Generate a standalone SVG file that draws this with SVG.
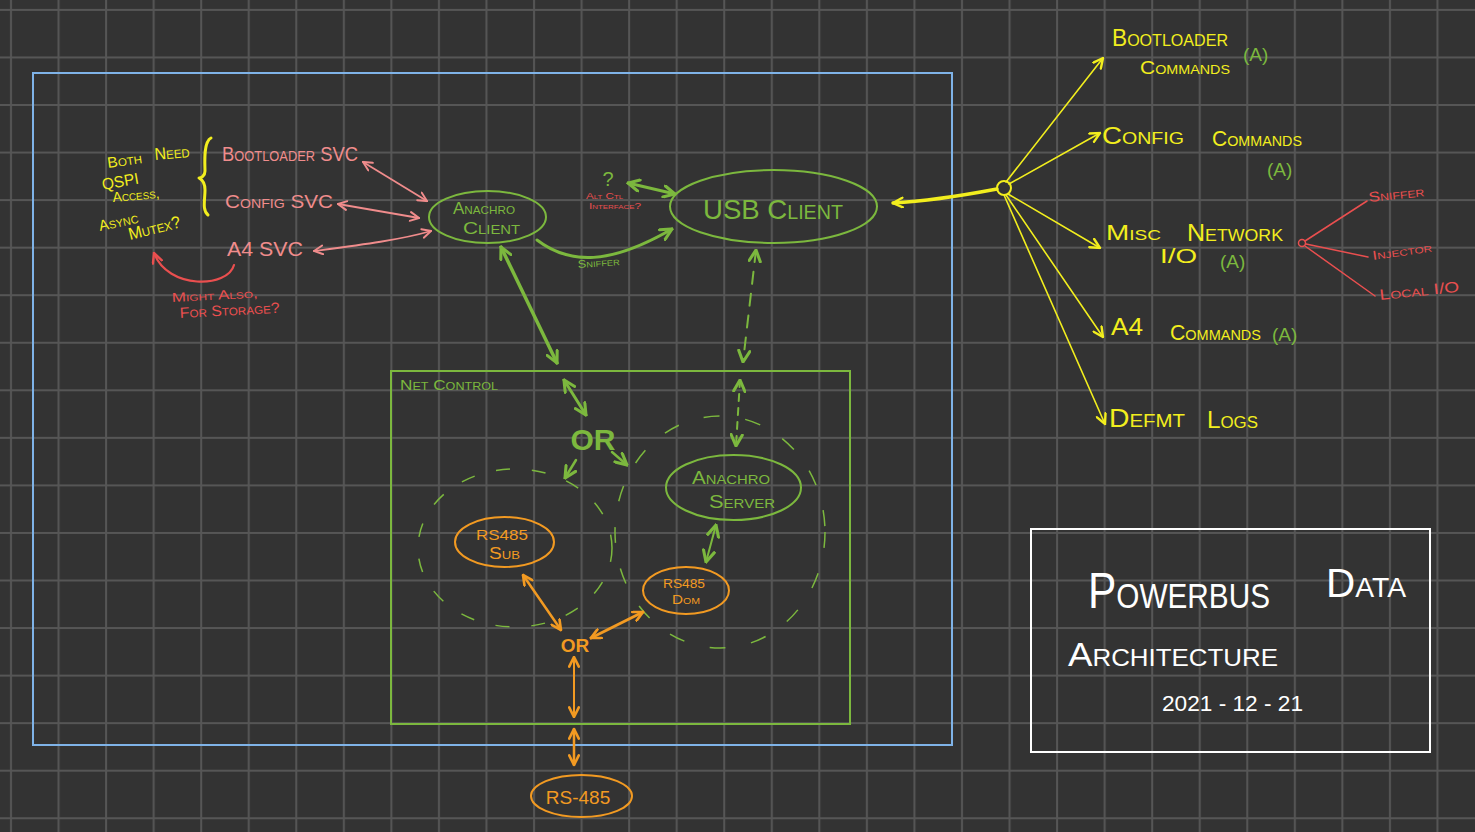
<svg xmlns="http://www.w3.org/2000/svg" width="1475" height="832" viewBox="0 0 1475 832">
<style>
text{font-family:"Liberation Sans","DejaVu Sans",sans-serif;font-variant:small-caps;}
.y{fill:#f2ee1e}.g{fill:#7cb83e}.o{fill:#f29a22}.p{fill:#f08c8c}.r{fill:#ea4f4f}.w{fill:#ffffff}
.ln{fill:none;stroke-linecap:round;stroke-linejoin:round}
.sy{stroke:#f2ee1e}.sg{stroke:#7cb83e}.so{stroke:#f29a22}.sp{stroke:#f08c8c}.sr{stroke:#ea4f4f}
</style>
<defs>
<pattern id="grid" x="1" y="0" width="47.55" height="47.55" patternUnits="userSpaceOnUse">
<path d="M10,0V47.55M0,10H47.55" stroke="#565656" stroke-width="2" fill="none"/>
</pattern>
<marker id="ay" viewBox="0 0 10 10" refX="9" refY="5" markerWidth="12" markerHeight="12" markerUnits="userSpaceOnUse" orient="auto-start-reverse"><path d="M1,1L9,5L1,9" fill="none" stroke="#f2ee1e" stroke-width="2" stroke-linecap="round"/></marker>
<marker id="ag" viewBox="0 0 10 10" refX="9" refY="5" markerWidth="14" markerHeight="14" markerUnits="userSpaceOnUse" orient="auto-start-reverse"><path d="M1,1L9,5L1,9" fill="none" stroke="#7cb83e" stroke-width="2.2" stroke-linecap="round"/></marker>
<marker id="ao" viewBox="0 0 10 10" refX="9" refY="5" markerWidth="12" markerHeight="12" markerUnits="userSpaceOnUse" orient="auto-start-reverse"><path d="M1,1L9,5L1,9" fill="none" stroke="#f29a22" stroke-width="2.2" stroke-linecap="round"/></marker>
<marker id="ap" viewBox="0 0 10 10" refX="9" refY="5" markerWidth="11" markerHeight="11" markerUnits="userSpaceOnUse" orient="auto-start-reverse"><path d="M1,1L9,5L1,9" fill="none" stroke="#f08c8c" stroke-width="1.8" stroke-linecap="round"/></marker>
<marker id="ar" viewBox="0 0 10 10" refX="9" refY="5" markerWidth="12" markerHeight="12" markerUnits="userSpaceOnUse" orient="auto-start-reverse"><path d="M1,1L9,5L1,9" fill="none" stroke="#ea4f4f" stroke-width="2" stroke-linecap="round"/></marker>
</defs>
<rect width="1475" height="832" fill="#333333"/>
<rect width="1475" height="832" fill="url(#grid)"/>

<!-- frames -->
<g id="system-frame"><rect x="33" y="73" width="919" height="672" fill="none" stroke="#7fb3e8" stroke-width="2"/></g>
<g id="net-control"><rect x="391" y="371" width="459" height="353" fill="none" stroke="#7cb83e" stroke-width="2"/>
<text x="400" y="390" class="g" font-size="15" textLength="98" lengthAdjust="spacingAndGlyphs">Net Control</text></g>
<g id="title-box"><rect x="1031" y="529" width="399" height="223" fill="none" stroke="#ffffff" stroke-width="2"/>
<text x="1088" y="608" class="w" font-size="50" textLength="182" lengthAdjust="spacingAndGlyphs">Powerbus</text>
<text x="1326" y="597" class="w" font-size="40" textLength="80" lengthAdjust="spacingAndGlyphs">Data</text>
<text x="1068" y="666" class="w" font-size="34" textLength="210" lengthAdjust="spacingAndGlyphs">Architecture</text>
<text x="1162" y="711" class="w" font-size="22" textLength="141" lengthAdjust="spacingAndGlyphs">2021 - 12 - 21</text></g>

<!-- left notes -->
<g id="note-qspi">
<text x="108" y="168" class="y" font-size="15" textLength="35" lengthAdjust="spacingAndGlyphs" transform="rotate(-8 108 168)">Both</text>
<text x="155" y="160" class="y" font-size="17" textLength="35" lengthAdjust="spacingAndGlyphs" transform="rotate(-5 155 160)">Need</text>
<text x="103" y="190" class="y" font-size="16" textLength="37" lengthAdjust="spacingAndGlyphs" transform="rotate(-10 103 190)">QSPI</text>
<text x="113" y="202" class="y" font-size="14" textLength="47" lengthAdjust="spacingAndGlyphs" transform="rotate(-5 113 202)">Access,</text>
<text x="100" y="231" class="y" font-size="15" textLength="40" lengthAdjust="spacingAndGlyphs" transform="rotate(-12 100 231)">Async</text>
<text x="130" y="240" class="y" font-size="17" textLength="53" lengthAdjust="spacingAndGlyphs" transform="rotate(-14 130 240)">Mutex?</text>
<path class="ln sy" stroke-width="3" d="M211,138C203,142 205,165 205,171C205,176 201,178 199,178C203,180 205,183 205,190C205,200 202,210 208,215"/>
</g>
<g id="bootloader-svc"><text x="222" y="161" class="p" font-size="20" textLength="136" lengthAdjust="spacingAndGlyphs">Bootloader SVC</text></g>
<g id="config-svc"><text x="225" y="208" class="p" font-size="19" textLength="108" lengthAdjust="spacingAndGlyphs">Config SVC</text></g>
<g id="a4-svc"><text x="227" y="256" class="p" font-size="20" textLength="76" lengthAdjust="spacingAndGlyphs">A4 SVC</text></g>
<g id="note-storage">
<text x="172" y="302" class="r" font-size="13" textLength="86" lengthAdjust="spacingAndGlyphs" transform="rotate(-3 172 302)">Might Also,</text>
<text x="180" y="318" class="r" font-size="15" textLength="100" lengthAdjust="spacingAndGlyphs" transform="rotate(-3 180 318)">For Storage?</text>
</g>

<!-- central nodes -->
<g id="anachro-client"><ellipse cx="487.5" cy="217" rx="58.5" ry="26" fill="none" stroke="#7cb83e" stroke-width="2"/>
<text x="453" y="214" class="g" font-size="16" textLength="62" lengthAdjust="spacingAndGlyphs">Anachro</text>
<text x="463" y="234" class="g" font-size="17" textLength="57" lengthAdjust="spacingAndGlyphs">Client</text></g>
<g id="usb-client"><ellipse cx="773.5" cy="206.5" rx="103.5" ry="36.5" fill="none" stroke="#7cb83e" stroke-width="2"/>
<text x="773" y="219" class="g" font-size="28" text-anchor="middle" textLength="140" lengthAdjust="spacingAndGlyphs">USB Client</text></g>
<g id="alt-ctl"><text x="608" y="186" class="g" font-size="20" text-anchor="middle">?</text>
<text x="586" y="199" class="r" font-size="9" textLength="37" lengthAdjust="spacingAndGlyphs">Alt Ctl</text>
<text x="589" y="209" class="r" font-size="9" textLength="52" lengthAdjust="spacingAndGlyphs">Interface?</text></g>
<g id="anachro-server"><ellipse cx="733.5" cy="487.5" rx="67.5" ry="32.5" fill="none" stroke="#7cb83e" stroke-width="2"/>
<text x="692" y="484" class="g" font-size="18" textLength="78" lengthAdjust="spacingAndGlyphs">Anachro</text>
<text x="709" y="508" class="g" font-size="19" textLength="66" lengthAdjust="spacingAndGlyphs">Server</text></g>
<g id="or-green"><text x="593" y="450" class="g" font-size="30" font-weight="bold" text-anchor="middle">OR</text></g>
<g id="rs485-sub"><ellipse cx="504.5" cy="542" rx="49.5" ry="25" fill="none" stroke="#f29a22" stroke-width="2"/>
<text x="476" y="540" class="o" font-size="15" textLength="52" lengthAdjust="spacingAndGlyphs">RS485</text>
<text x="489" y="559" class="o" font-size="16" textLength="31" lengthAdjust="spacingAndGlyphs">Sub</text></g>
<g id="rs485-dom"><ellipse cx="686" cy="590.5" rx="43" ry="23.5" fill="none" stroke="#f29a22" stroke-width="2"/>
<text x="663" y="588" class="o" font-size="12" textLength="42" lengthAdjust="spacingAndGlyphs">RS485</text>
<text x="672" y="604" class="o" font-size="13" textLength="28" lengthAdjust="spacingAndGlyphs">Dom</text></g>
<g id="or-orange"><text x="575" y="652" class="o" font-size="19" font-weight="bold" text-anchor="middle">OR</text></g>
<g id="rs-485"><ellipse cx="581.5" cy="796" rx="50.5" ry="21" fill="none" stroke="#f29a22" stroke-width="2"/>
<text x="578" y="804" class="o" font-size="19" text-anchor="middle">RS-485</text></g>

<!-- right side -->
<g id="hub"><circle cx="1004" cy="188" r="7" fill="#333" stroke="#f2ee1e" stroke-width="2"/></g>
<g id="bootloader-commands">
<text x="1112" y="46" class="y" font-size="24" textLength="116" lengthAdjust="spacingAndGlyphs">Bootloader</text>
<text x="1140" y="74" class="y" font-size="19" textLength="90" lengthAdjust="spacingAndGlyphs">Commands</text>
<text x="1243" y="61" class="g" font-size="19">(A)</text></g>
<g id="config-commands">
<text x="1102" y="144" class="y" font-size="24" textLength="82" lengthAdjust="spacingAndGlyphs">Config</text>
<text x="1212" y="146" class="y" font-size="22" textLength="90" lengthAdjust="spacingAndGlyphs">Commands</text>
<text x="1267" y="176" class="g" font-size="19">(A)</text></g>
<g id="misc-network">
<text x="1106" y="240" class="y" font-size="22" textLength="55" lengthAdjust="spacingAndGlyphs">Misc</text>
<text x="1187" y="241" class="y" font-size="24" textLength="96" lengthAdjust="spacingAndGlyphs">Network</text>
<text x="1160" y="263" class="y" font-size="20" textLength="37" lengthAdjust="spacingAndGlyphs">I/O</text>
<text x="1220" y="268" class="g" font-size="19">(A)</text></g>
<g id="a4-commands">
<text x="1111" y="335" class="y" font-size="24" textLength="32" lengthAdjust="spacingAndGlyphs">A4</text>
<text x="1170" y="340" class="y" font-size="22" textLength="91" lengthAdjust="spacingAndGlyphs">Commands</text>
<text x="1272" y="341" class="g" font-size="19">(A)</text></g>
<g id="defmt-logs">
<text x="1109" y="427" class="y" font-size="25" textLength="76" lengthAdjust="spacingAndGlyphs">Defmt</text>
<text x="1207" y="428" class="y" font-size="23" textLength="51" lengthAdjust="spacingAndGlyphs">Logs</text></g>
<g id="misc-split"><circle cx="1302" cy="243" r="3.5" fill="none" stroke="#ea4f4f" stroke-width="1.5"/>
<text x="1369" y="202" class="r" font-size="14" textLength="56" lengthAdjust="spacingAndGlyphs" transform="rotate(-6 1369 202)">Sniffer</text>
<text x="1373" y="260" class="r" font-size="13" textLength="60" lengthAdjust="spacingAndGlyphs" transform="rotate(-8 1373 260)">Injector</text>
<text x="1380" y="300" class="r" font-size="15" textLength="80" lengthAdjust="spacingAndGlyphs" transform="rotate(-6 1380 300)">Local I/O</text></g>

<!-- connectors -->
<g id="connectors">
<path class="ln sp" stroke-width="1.8" marker-start="url(#ap)" marker-end="url(#ap)" d="M363,162L427,201"/>
<path class="ln sp" stroke-width="1.8" marker-start="url(#ap)" marker-end="url(#ap)" d="M338,204L419,218"/>
<path class="ln sp" stroke-width="1.8" marker-start="url(#ap)" marker-end="url(#ap)" d="M314,251C360,245 400,240 431,231"/>
<path class="ln sr" stroke-width="2.2" marker-end="url(#ar)" d="M234,265C228,288 168,290 154,253"/>
<path class="ln sg" stroke-width="3" marker-start="url(#ag)" marker-end="url(#ag)" d="M628,183L675,194"/>
<path class="ln sg" stroke-width="3" marker-end="url(#ag)" d="M537,240C570,265 610,265 672,229"/>
<text x="578" y="268" class="g" font-size="11" textLength="42" lengthAdjust="spacingAndGlyphs" transform="rotate(-4 578 268)">Sniffer</text>
<path class="ln sg" stroke-width="3.5" marker-start="url(#ag)" marker-end="url(#ag)" d="M501,247L557,363"/>
<path class="ln sg" stroke-width="2" stroke-dasharray="12 10" marker-start="url(#ag)" marker-end="url(#ag)" d="M756,250L743,362"/>
<path class="ln sg" stroke-width="2" stroke-dasharray="7 7" marker-start="url(#ag)" marker-end="url(#ag)" d="M740,380L736,446"/>
<path class="ln sg" stroke-width="3" marker-start="url(#ag)" marker-end="url(#ag)" d="M564,380L586,415"/>
<path class="ln sg" stroke-width="2.5" marker-end="url(#ag)" d="M576,460L565,478"/>
<path class="ln sg" stroke-width="2.5" marker-end="url(#ag)" d="M612,452L627,465"/>
<ellipse cx="515" cy="548" rx="97" ry="79" fill="none" stroke="#7cb83e" stroke-width="1.5" stroke-dasharray="14 22"/>
<ellipse cx="720" cy="532" rx="105" ry="116" fill="none" stroke="#7cb83e" stroke-width="1.5" stroke-dasharray="16 26"/>
<path class="ln sg" stroke-width="2" marker-start="url(#ag)" marker-end="url(#ag)" d="M716,525L706,562"/>
<path class="ln so" stroke-width="2.5" marker-start="url(#ao)" marker-end="url(#ao)" d="M523,575L561,630"/>
<path class="ln so" stroke-width="3" marker-start="url(#ao)" marker-end="url(#ao)" d="M591,638L643,612"/>
<path class="ln so" stroke-width="2" marker-start="url(#ao)" marker-end="url(#ao)" d="M574,657L574,717"/>
<path class="ln so" stroke-width="2.5" marker-start="url(#ao)" marker-end="url(#ao)" d="M574,729L574,765"/>
<path class="ln sy" stroke-width="3.5" marker-end="url(#ay)" d="M997,189C960,196 930,201 893,203"/>
<path class="ln sy" stroke-width="1.6" marker-end="url(#ay)" d="M1006,182L1103,58"/>
<path class="ln sy" stroke-width="1.6" marker-end="url(#ay)" d="M1009,184L1100,133"/>
<path class="ln sy" stroke-width="1.6" marker-end="url(#ay)" d="M1008,194L1100,248"/>
<path class="ln sy" stroke-width="1.6" marker-end="url(#ay)" d="M1006,195L1103,337"/>
<path class="ln sy" stroke-width="1.6" marker-end="url(#ay)" d="M1004,195L1105,424"/>
<path class="ln sr" stroke-width="1.5" d="M1305,241L1367,201M1306,244L1368,257M1305,246L1375,296"/>
</g>
</svg>
